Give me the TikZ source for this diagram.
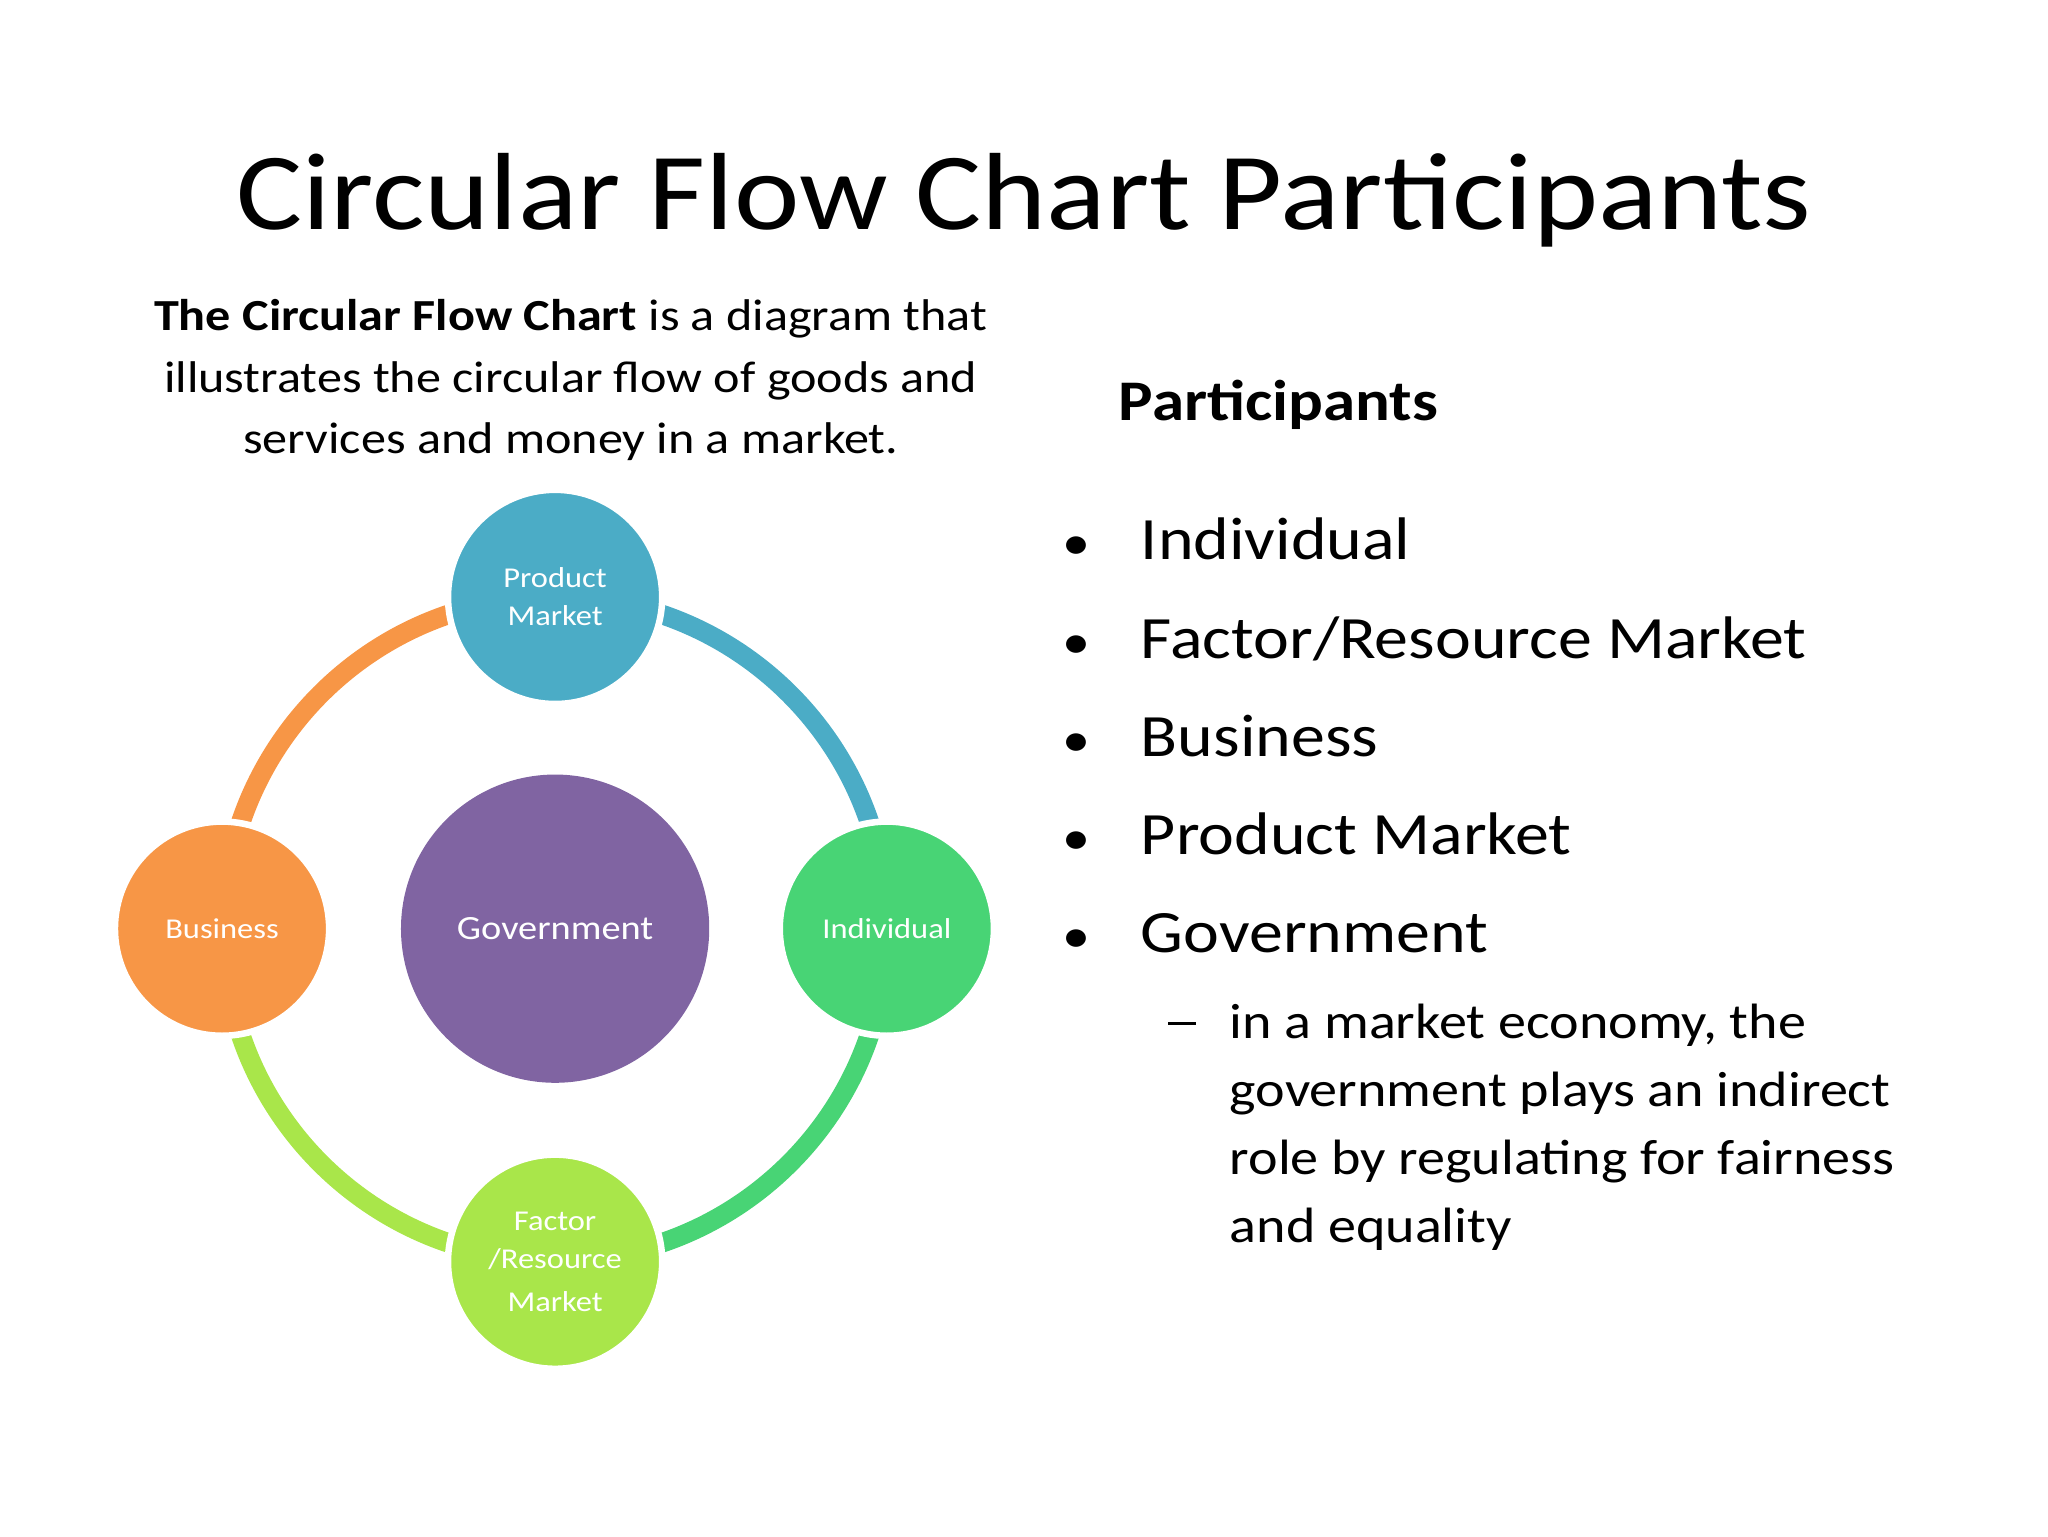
\documentclass[tikz,border=0pt]{standalone}
\usepackage{fontspec}
\setmainfont{Carlito}[FakeStretch=1.13]
\begin{document}
\begin{tikzpicture}[x=1pt,y=-1pt,
  part/.style={circle,minimum size=164pt,inner sep=0pt,draw=white,line width=5pt,text=white,align=center,font=\fontsize{22}{29}\selectfont},
  ring/.style={line width=15pt},
  bul/.style={anchor=base west,font=\fontsize{46}{50}\selectfont},
  sub/.style={anchor=base west,font=\fontsize{38}{52}\selectfont,align=left}]
\definecolor{pm}{HTML}{4BACC6}\definecolor{ind}{HTML}{48D475}
\definecolor{fac}{HTML}{A9E64A}\definecolor{bus}{HTML}{F79646}
\definecolor{gov}{HTML}{8064A2}
\useasboundingbox (0,0) rectangle (1568,1176);
\node[anchor=base,font=\fontsize{84}{90}\selectfont] (title) at (784,176) {Circular Flow Chart Participants};
\node[align=center,font=\fontsize{34}{47}\selectfont,anchor=north] (intro) at (437,226) {\textbf{The Circular Flow Chart} is a diagram that\\illustrates the circular flow of goods and\\services and money in a market.};
\coordinate (c) at (425,711);
\draw[ring,pm] (c) ++(90:-254) arc[start angle=-90,end angle=0,radius=254];
\draw[ring,ind] (c) ++(0:254) arc[start angle=0,end angle=90,radius=254];
\draw[ring,fac] (c) ++(0,254) arc[start angle=90,end angle=180,radius=254];
\draw[ring,bus] (c) ++(-254,0) arc[start angle=180,end angle=270,radius=254];
\node[part,fill=pm] (p) at (425,457) {Product\\Market};
\node[part,fill=ind] (i) at (679,711) {Individual};
\node[part,fill=fac] (f) at (425,966) {Factor\\/Resource\\[4pt]Market};
\node[part,fill=bus] (b) at (170,711) {Business};
\node[part,fill=gov,minimum size=236pt,draw=none,font=\fontsize{26}{30}\selectfont] (g) at (425,711) {Government};
\node[anchor=base west,font=\bfseries\fontsize{44}{46}\selectfont] (ph) at (853,322) {Participants};
\foreach \t/\y [count=\k] in {Individual/428,Factor\slash Resource Market/504,Business/579,Product Market/654,Government/729}{
  \node[bul,font=\fontsize{38}{40}\selectfont] (d\k) at (810,\y) {•};
  \node[bul] (b\k) at (870,\y) {\t};
}
\node[sub] (dash) at (891,795) {\rule[0.27em]{0.55em}{2.2pt}};
\node[sub,anchor=north west] (st) at (938,765) {in a market economy, the\\government plays an indirect\\role by regulating for fairness\\and equality};
\end{tikzpicture}
\end{document}
